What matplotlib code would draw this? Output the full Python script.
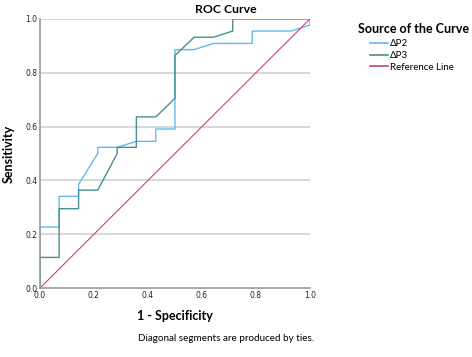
import matplotlib
matplotlib.use("Agg")
import matplotlib.pyplot as plt
from matplotlib.lines import Line2D

plt.rcParams["font.family"] = ["Lato", "DejaVu Sans"]

# ROC points (1 - specificity, sensitivity)
p2_fpr = [0, 0, 0.071, 0.071, 0.143, 0.143, 0.214, 0.214, 0.286, 0.357, 0.429, 0.429,
          0.5, 0.5, 0.571, 0.643, 0.786, 0.786, 0.929, 1.0, 1.0]
p2_tpr = [0, 0.227, 0.227, 0.341, 0.341, 0.386, 0.5, 0.523, 0.523, 0.545, 0.545, 0.591,
          0.591, 0.886, 0.886, 0.909, 0.909, 0.955, 0.955, 0.977, 1.0]

p3_fpr = [0, 0, 0.071, 0.071, 0.143, 0.143, 0.214, 0.286, 0.286, 0.357, 0.357, 0.429,
          0.5, 0.5, 0.571, 0.643, 0.714, 0.714, 1.0]
p3_tpr = [0, 0.114, 0.114, 0.295, 0.295, 0.364, 0.364, 0.5, 0.523, 0.523, 0.636, 0.636,
          0.705, 0.864, 0.932, 0.932, 0.955, 1.0, 1.0]

ref = [0, 1]
ticks = [0.0, 0.2, 0.4, 0.6, 0.8, 1.0]
labels = ["ΔP2", "ΔP3", "Reference Line"]

c_p2 = "#62baf0"
c_p3 = "#4a8f8f"
c_ref = "#c4457a"

fig = plt.figure(figsize=(4.72, 3.57), dpi=100)
ax = fig.add_axes([0.0847, 0.193, 0.572, 0.754])

for t in ticks[1:]:
    ax.axhline(t, color="#d9d9d9", lw=1.5, zorder=0)

ax.plot(p2_fpr, p2_tpr, color=c_p2, lw=1.0, label=labels[0])
ax.plot(p3_fpr, p3_tpr, color=c_p3, lw=1.0, label=labels[1])
ax.plot(ref, ref, color=c_ref, lw=0.8, label=labels[2])

ax.set_xlim(0, 1)
ax.set_ylim(0, 1)
ax.set_xticks(ticks)
ax.set_yticks(ticks)
ax.set_xticklabels([f"{t:.1f}" for t in ticks], family="DejaVu Sans")
ax.set_yticklabels([f"{t:.1f}" for t in ticks], family="DejaVu Sans")
ax.tick_params(length=0, labelsize=5.5, pad=2, colors="#222222")
for s in ["top", "right"]:
    ax.spines[s].set_visible(False)
for s in ["left", "bottom"]:
    ax.spines[s].set_color("#999999")
    ax.spines[s].set_linewidth(1.2)

# title sits centred over the whole chart, not the axes
fig.text(0.479, 0.972, "ROC Curve", fontsize=8.8, fontweight="bold",
         ha="center", va="center")
ax.set_xlabel("1 - Specificity", fontsize=9, fontweight="bold")
ax.set_ylabel("Sensitivity", fontsize=9, fontweight="bold")
ax.xaxis.set_label_coords(0.5, -0.08)
ax.yaxis.set_label_coords(-0.092, 0.5)

fig.text(358 / 472, 1 - 29 / 357, "Source of the Curve", fontsize=9,
         fontweight="bold", ha="left", va="center")
handles = [Line2D([], [], color=c, lw=1.2) for c in (c_p2, c_p3, c_ref)]
leg = fig.legend(handles, labels, loc="upper left",
                 bbox_to_anchor=(370 / 472, 1 - 39.5 / 357), frameon=False,
                 fontsize=7, handlelength=1.85, handletextpad=0.2,
                 labelspacing=0.26, borderpad=0, borderaxespad=0)

fig.text(0.479, 0.053, "Diagonal segments are produced by ties.", fontsize=7.1,
         ha="center", va="center")

fig.savefig("out.png", dpi=100)
